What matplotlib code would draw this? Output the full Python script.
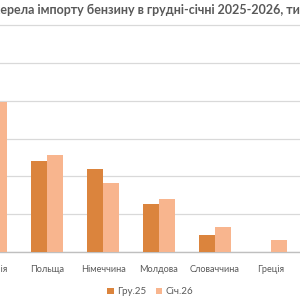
import matplotlib.pyplot as plt
import numpy as np

plt.rcParams['font.family'] = ['Lato', 'DejaVu Sans']

countries = ['Румунія', 'Польща', 'Німеччина', 'Молдова', 'Словаччина', 'Греція']
dec25 = [48.0, 24.1, 22.0, 12.6, 4.5, 0.0]
jan26 = [39.6, 25.7, 18.2, 14.1, 6.5, 3.2]
title = 'Джерела імпорту бензину в грудні-січні 2025-2026, тис. т'

c_dec = '#DB843D'
c_jan = '#F8B58E'
txt = '#595959'

fig = plt.figure(figsize=(3, 3), dpi=100)
# chart is a crop: axes run off both sides of the picture
ax = fig.add_axes([0, 0.16, 1, 62 * 3.783 / 300])

x = np.arange(len(countries))
w = 0.285
ax.bar(x - w / 2, dec25, w, color=c_dec, label='Гру.25', zorder=3)
ax.bar(x + w / 2, jan26, w, color=c_jan, label='Січ.26', zorder=3)

ax.set_xticks(x)
ax.set_xticklabels(countries, fontsize=6.6, color=txt)
ax.tick_params(axis='x', pad=6)
x0 = 9 / 56
ax.set_xlim(x0, x0 + 300 / 56)
ax.set_ylim(0, 62)
ax.set_yticks(np.arange(0, 61, 10))
ax.yaxis.grid(True, color='#D9D9D9', linewidth=0.9, zorder=0)
ax.tick_params(left=False, labelleft=False, bottom=False)
for s in ['top', 'right', 'left']:
    ax.spines[s].set_visible(False)
ax.spines['bottom'].set_color('#BFBFBF')
ax.spines['bottom'].set_linewidth(1.0)

r = fig.canvas.get_renderer()
fig.canvas.draw()

# first category's tick lies outside the view, so matplotlib drops its label;
# draw it by hand at the same height as the other labels
lab = ax.get_xticklabels()[1].get_window_extent(r)
px = ax.transData.transform((x[0], 0))[0]
fig.text(px / 300, (lab.y0 + lab.y1) / 2 / 300, countries[0], ha='center',
         va='center', fontsize=6.6, color=txt)

# title is cut at both sides in the reference: "Дж" falls off the left edge
t = fig.text(0, 0.966, title, ha='left', va='center', fontsize=9.0,
             fontweight='bold', color=txt)
def tw(s):
    probe = fig.text(0, 0, s, fontsize=9.0, fontweight='bold')
    wd = probe.get_window_extent(r).width
    probe.remove()
    return wd
t.set_x(-tw('Дж') / 300)

ax.legend(loc='center', bbox_to_anchor=(0.5, -0.17), ncol=2, frameon=False,
          fontsize=7, labelcolor=txt, handlelength=0.7, handleheight=0.7,
          handletextpad=0.3, columnspacing=1.0)

fig.savefig('out.png', dpi=100)
